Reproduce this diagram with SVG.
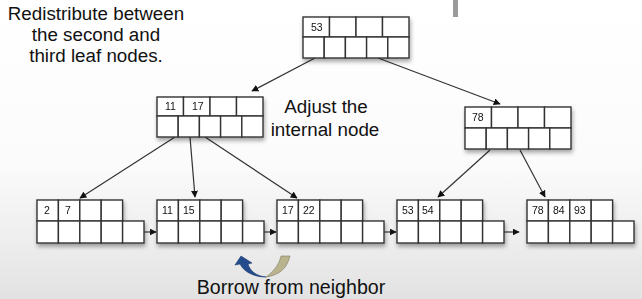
<svg xmlns="http://www.w3.org/2000/svg" width="642" height="299" viewBox="0 0 642 299">
<defs>
<linearGradient id="bg" x1="0" y1="0" x2="0" y2="1">
<stop offset="0" stop-color="#ffffff"/>
<stop offset="0.55" stop-color="#fbfbfb"/>
<stop offset="0.8" stop-color="#eeeeee"/>
<stop offset="1" stop-color="#e2e2e2"/>
</linearGradient>
<filter id="sh" x="-10%" y="-10%" width="125%" height="135%">
<feGaussianBlur in="SourceAlpha" stdDeviation="2"/>
<feOffset dx="1" dy="3" result="b"/>
<feComponentTransfer><feFuncA type="linear" slope="0.35"/></feComponentTransfer>
<feMerge><feMergeNode/><feMergeNode in="SourceGraphic"/></feMerge>
</filter>
<marker id="ah" viewBox="0 0 10 10" refX="9" refY="5" markerWidth="7" markerHeight="7" orient="auto" markerUnits="userSpaceOnUse">
<path d="M0,0 L10,5 L0,10 z" fill="#111"/>
</marker>
</defs>
<style>
.c{fill:#fff;stroke:#333;stroke-width:1.4}
.k{font-family:"Liberation Sans",Arial,sans-serif;font-size:10.5px;fill:#111}
.t{font-family:"Liberation Sans",Arial,sans-serif;font-size:18.8px;fill:#111}
.b{font-size:19.6px}
.ln{stroke:#333;stroke-width:1.2;fill:none;marker-end:url(#ah)}
</style>
<rect x="0" y="0" width="642" height="299" fill="url(#bg)"/>
<rect x="453" y="0" width="5" height="17" fill="#9a9a9a"/>

<g id="connectors">
<line class="ln" x1="315" y1="58" x2="252" y2="91"/>
<line class="ln" x1="378" y1="58" x2="500" y2="104"/>
<line class="ln" x1="175" y1="137" x2="80" y2="198"/>
<line class="ln" x1="190" y1="137" x2="195" y2="197"/>
<line class="ln" x1="205" y1="137" x2="297" y2="198"/>
<line class="ln" x1="490" y1="150" x2="438" y2="197"/>
<line class="ln" x1="520" y1="150" x2="545" y2="197"/>
<line class="ln" x1="144" y1="232" x2="156" y2="232"/>
<line class="ln" x1="264" y1="232" x2="276" y2="232"/>
<line class="ln" x1="384" y1="232" x2="396" y2="232"/>
<line class="ln" x1="504" y1="232" x2="519" y2="232"/>
</g>

<g id="root" filter="url(#sh)">
<rect class="c" x="303" y="17" width="26.5" height="20"/>
<rect class="c" x="329.5" y="17" width="26.5" height="20"/>
<rect class="c" x="356" y="17" width="26.5" height="20"/>
<rect class="c" x="382.5" y="17" width="26.5" height="20"/>
<rect class="c" x="303" y="37" width="21.2" height="21"/>
<rect class="c" x="324.2" y="37" width="21.2" height="21"/>
<rect class="c" x="345.4" y="37" width="21.2" height="21"/>
<rect class="c" x="366.6" y="37" width="21.2" height="21"/>
<rect class="c" x="387.8" y="37" width="21.2" height="21"/>
<text class="k" x="311" y="31">53</text>
</g>

<g id="internal-left" filter="url(#sh)">
<rect class="c" x="157" y="97" width="26.5" height="19"/>
<rect class="c" x="183.5" y="97" width="26.5" height="19"/>
<rect class="c" x="210" y="97" width="26.5" height="19"/>
<rect class="c" x="236.5" y="97" width="26.5" height="19"/>
<rect class="c" x="157" y="116" width="21.2" height="21"/>
<rect class="c" x="178.2" y="116" width="21.2" height="21"/>
<rect class="c" x="199.4" y="116" width="21.2" height="21"/>
<rect class="c" x="220.6" y="116" width="21.2" height="21"/>
<rect class="c" x="241.8" y="116" width="21.2" height="21"/>
<text class="k" x="165" y="110">11</text>
<text class="k" x="192" y="110">17</text>
</g>

<g id="internal-right" filter="url(#sh)">
<rect class="c" x="465" y="107" width="26.5" height="21"/>
<rect class="c" x="491.5" y="107" width="26.5" height="21"/>
<rect class="c" x="518" y="107" width="26.5" height="21"/>
<rect class="c" x="544.5" y="107" width="26.5" height="21"/>
<rect class="c" x="465" y="128" width="21.2" height="21"/>
<rect class="c" x="486.2" y="128" width="21.2" height="21"/>
<rect class="c" x="507.4" y="128" width="21.2" height="21"/>
<rect class="c" x="528.6" y="128" width="21.2" height="21"/>
<rect class="c" x="549.8" y="128" width="21.2" height="21"/>
<text class="k" x="472" y="121">78</text>
</g>

<g id="leaf1" filter="url(#sh)">
<rect class="c" x="37" y="200" width="21.4" height="21"/>
<rect class="c" x="58.4" y="200" width="21.4" height="21"/>
<rect class="c" x="79.8" y="200" width="21.4" height="21"/>
<rect class="c" x="101.2" y="200" width="21.4" height="21"/>
<rect class="c" x="37" y="221" width="21.4" height="22"/>
<rect class="c" x="58.4" y="221" width="21.4" height="22"/>
<rect class="c" x="79.8" y="221" width="21.4" height="22"/>
<rect class="c" x="101.2" y="221" width="21.4" height="22"/>
<rect class="c" x="122.6" y="221" width="21.4" height="22"/>
<text class="k" x="44" y="214">2</text>
<text class="k" x="65" y="214">7</text>
</g>

<g id="leaf2" filter="url(#sh)">
<rect class="c" x="157" y="200" width="21.4" height="21"/>
<rect class="c" x="178.4" y="200" width="21.4" height="21"/>
<rect class="c" x="199.8" y="200" width="21.4" height="21"/>
<rect class="c" x="221.2" y="200" width="21.4" height="21"/>
<rect class="c" x="157" y="221" width="21.4" height="22"/>
<rect class="c" x="178.4" y="221" width="21.4" height="22"/>
<rect class="c" x="199.8" y="221" width="21.4" height="22"/>
<rect class="c" x="221.2" y="221" width="21.4" height="22"/>
<rect class="c" x="242.6" y="221" width="21.4" height="22"/>
<text class="k" x="162" y="214">11</text>
<text class="k" x="183" y="214">15</text>
</g>

<g id="leaf3" filter="url(#sh)">
<rect class="c" x="277" y="200" width="21.4" height="21"/>
<rect class="c" x="298.4" y="200" width="21.4" height="21"/>
<rect class="c" x="319.8" y="200" width="21.4" height="21"/>
<rect class="c" x="341.2" y="200" width="21.4" height="21"/>
<rect class="c" x="277" y="221" width="21.4" height="22"/>
<rect class="c" x="298.4" y="221" width="21.4" height="22"/>
<rect class="c" x="319.8" y="221" width="21.4" height="22"/>
<rect class="c" x="341.2" y="221" width="21.4" height="22"/>
<rect class="c" x="362.6" y="221" width="21.4" height="22"/>
<text class="k" x="282" y="214">17</text>
<text class="k" x="303" y="214">22</text>
</g>

<g id="leaf4" filter="url(#sh)">
<rect class="c" x="397" y="200" width="21.4" height="21"/>
<rect class="c" x="418.4" y="200" width="21.4" height="21"/>
<rect class="c" x="439.8" y="200" width="21.4" height="21"/>
<rect class="c" x="461.2" y="200" width="21.4" height="21"/>
<rect class="c" x="397" y="221" width="21.4" height="22"/>
<rect class="c" x="418.4" y="221" width="21.4" height="22"/>
<rect class="c" x="439.8" y="221" width="21.4" height="22"/>
<rect class="c" x="461.2" y="221" width="21.4" height="22"/>
<rect class="c" x="482.6" y="221" width="21.4" height="22"/>
<text class="k" x="402" y="214">53</text>
<text class="k" x="422" y="214">54</text>
</g>

<g id="leaf5" filter="url(#sh)">
<rect class="c" x="527" y="200" width="21.4" height="21"/>
<rect class="c" x="548.4" y="200" width="21.4" height="21"/>
<rect class="c" x="569.8" y="200" width="21.4" height="21"/>
<rect class="c" x="591.2" y="200" width="21.4" height="21"/>
<rect class="c" x="527" y="221" width="21.4" height="22"/>
<rect class="c" x="548.4" y="221" width="21.4" height="22"/>
<rect class="c" x="569.8" y="221" width="21.4" height="22"/>
<rect class="c" x="591.2" y="221" width="21.4" height="22"/>
<rect class="c" x="612.6" y="221" width="21.4" height="22"/>
<text class="k" x="532" y="214">78</text>
<text class="k" x="553" y="214">84</text>
<text class="k" x="574" y="214">93</text>
</g>

<g id="borrow-icon">
<path d="M266,277 C280,275 287,268 290,256 L281,256 C279,265 273,272 266,277 Z" fill="#b9b48e" stroke="#7d7a5e" stroke-width="0.6"/>
<path d="M266,277 C256,276 250,271 248,264 L252,263 L241,256 L235,265 L240,264 C244,272 254,277 266,277 Z" fill="#244c8c" stroke="#1a3a6e" stroke-width="0.6"/>
</g>

<g id="labels">
<text class="t" x="96" y="20" text-anchor="middle">Redistribute between</text>
<text class="t" x="96" y="41" text-anchor="middle">the second and</text>
<text class="t" x="96" y="62" text-anchor="middle">third leaf nodes.</text>
<text class="t" x="326" y="113" text-anchor="middle">Adjust the</text>
<text class="t" x="325" y="136" text-anchor="middle">internal node</text>
<text class="t b" x="291" y="294" text-anchor="middle">Borrow from neighbor</text>
</g>
</svg>
